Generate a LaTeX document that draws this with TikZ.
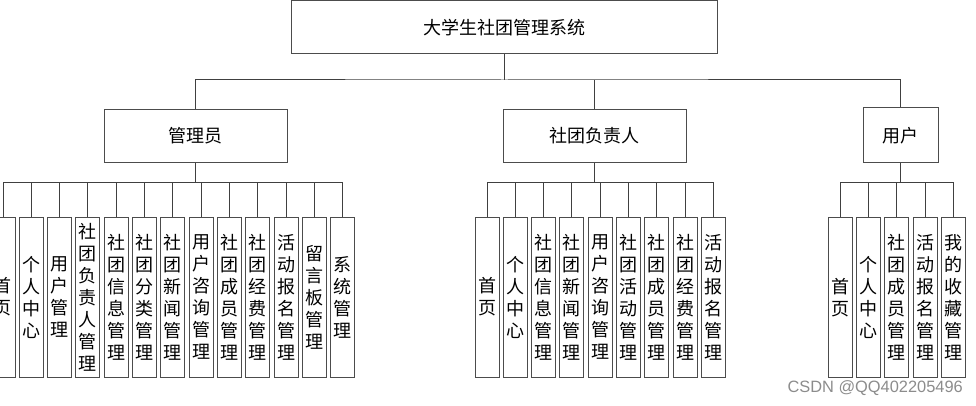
\documentclass[tikz,border=0pt]{standalone}
\usepackage{fontspec}
\newfontfamily\cjk{Noto Sans CJK SC}
\newfontfamily\wmfont{Liberation Sans}
\begin{document}
\begin{tikzpicture}[x=1pt,y=-1pt,
  box/.style={draw=black!70, line width=1pt, fill=white, font=\cjk\fontsize{18}{22}\selectfont, inner sep=0pt},
  top/.style={box, minimum height=53pt},
  leaf/.style={box, minimum width=24pt, minimum height=160pt, align=center},
  conn/.style={draw=black!75, line width=1pt}]
\useasboundingbox (0,0) rectangle (976,406);
\clip (0,0) rectangle (976,406);
\node[top, minimum width=426pt] (root) at (504,27.5) {大学生社团管理系统};
\node[top, minimum width=183pt] (admin) at (195.5,136) {管理员};
\node[top, minimum width=183pt] (lead) at (594.5,136) {社团负责人};
\node[top, minimum width=75pt, minimum height=55pt] (user) at (900.5,135.5) {用户};
\coordinate (bus0) at (504,80);
\coordinate (busA) at (0,182);
\draw[conn] (root.south) -- (bus0);
\draw[conn] (admin.north) |- (bus0) -| (user.north);
\draw[conn] (lead.north) -- (lead.north |- bus0);
% admin leaves
\foreach \t [count=\i from 0] in {首\\页, 个\\人\\中\\心, 用\\户\\管\\理, 社\\团\\负\\责\\人\\管\\理, 社\\团\\信\\息\\管\\理, 社\\团\\分\\类\\管\\理, 社\\团\\新\\闻\\管\\理, 用\\户\\咨\\询\\管\\理, 社\\团\\成\\员\\管\\理, 社\\团\\经\\费\\管\\理, 活\\动\\报\\名\\管\\理, 留\\言\\板\\管\\理, 系\\统\\管\\理}{
  \node[leaf] (a\i) at ({3+28.33*\i},297) {\t};
  \draw[conn] (a\i.north) -- (a\i.north |- busA);
}
\draw[conn] (a0.north |- busA) -- (a12.north |- busA);
\draw[conn] (admin.south) -- (admin.south |- busA);
% leader leaves
\foreach \t [count=\i from 0] in {首\\页, 个\\人\\中\\心, 社\\团\\信\\息\\管\\理, 社\\团\\新\\闻\\管\\理, 用\\户\\咨\\询\\管\\理, 社\\团\\活\\动\\管\\理, 社\\团\\成\\员\\管\\理, 社\\团\\经\\费\\管\\理, 活\\动\\报\\名\\管\\理}{
  \node[leaf] (b\i) at ({487+28.3*\i},297) {\t};
  \draw[conn] (b\i.north) -- (b\i.north |- busA);
}
\draw[conn] (b0.north |- busA) -- (b8.north |- busA);
\draw[conn] (lead.south) -- (lead.south |- busA);
% user leaves
\foreach \t [count=\i from 0] in {首\\页, 个\\人\\中\\心, 社\\团\\成\\员\\管\\理, 活\\动\\报\\名\\管\\理, 我\\的\\收\\藏\\管\\理}{
  \node[leaf] (c\i) at ({840+28.4*\i},297.5) {\t};
  \draw[conn] (c\i.north) -- (c\i.north |- busA);
}
\draw[conn] (c0.north |- busA) -- (c4.north |- busA);
\draw[conn] (user.south) -- (user.south |- busA);
\node[anchor=east, text=black!45, font=\wmfont\fontsize{16.4}{18}\selectfont, inner sep=0pt] (wm) at (963,388.5) {CSDN @QQ402205496};
\end{tikzpicture}
\end{document}
